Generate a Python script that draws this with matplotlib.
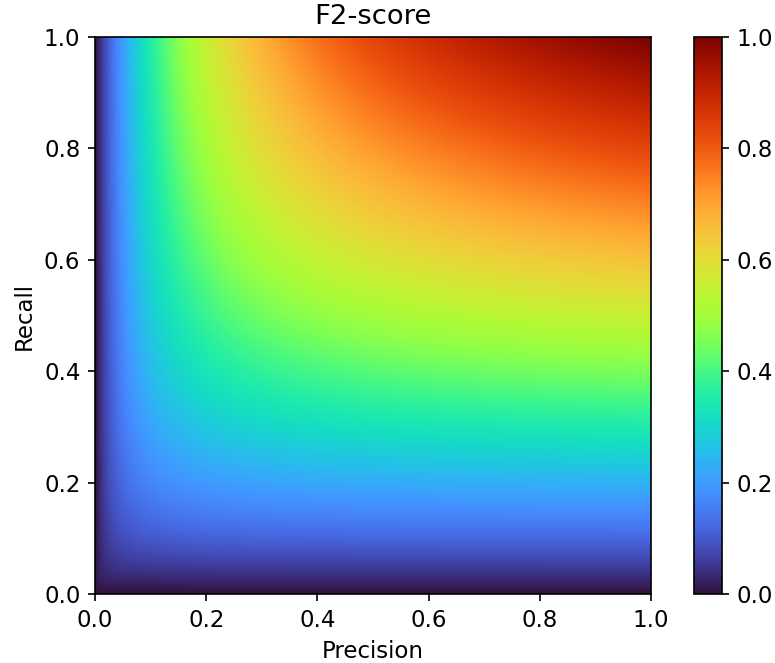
import matplotlib
matplotlib.use("Agg")
import matplotlib.pyplot as plt
import numpy as np

# F-beta surface over a precision/recall grid
beta = 2
precision = np.linspace(0, 1, 501)
recall = np.linspace(0, 1, 501)
P, R = np.meshgrid(precision, recall)
with np.errstate(divide="ignore", invalid="ignore"):
    score = (1 + beta**2) * P * R / (beta**2 * P + R)
score = np.nan_to_num(score)

plt.rcParams["font.size"] = 11

W, H, DPI = 776, 663, 150
fig = plt.figure(figsize=(W / DPI, H / DPI), dpi=DPI)
ax = fig.add_axes([95 / W, 1 - 594 / H, (651 - 95) / W, (594 - 37) / H])
cax = fig.add_axes([694 / W, 1 - 594 / H, (722 - 694) / W, (594 - 37) / H])

im = ax.imshow(score, origin="lower", extent=[0, 1, 0, 1], cmap="turbo",
               vmin=0, vmax=1, aspect="auto", interpolation="bilinear")
ax.set_xlim(0, 1)
ax.set_ylim(0, 1)
ax.set_xlabel("Precision")
ax.set_ylabel("Recall")
ax.set_title("F2-score")
fig.colorbar(im, cax=cax)

fig.savefig("out.png", dpi=DPI)
